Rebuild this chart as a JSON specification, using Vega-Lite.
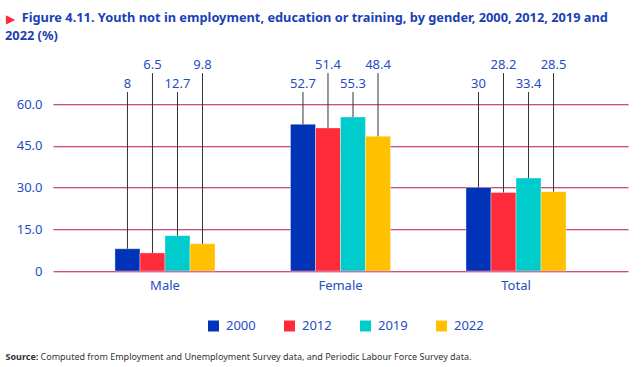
{
  "$schema": "https://vega.github.io/schema/vega-lite/v6.json",
  "width": 575,
  "height": 208.75,
  "autosize": {"type": "none"},
  "padding": {"left": 53, "top": 62.25, "right": 14, "bottom": 96},
  "config": {"font": "Noto Sans", "view": {"stroke": null}},
  "title": {
    "text": ["\u200b\u00a0\u00a0\u00a0\u00a0\u00a0Figure 4.11. Youth not in employment, education or training, by gender, 2000, 2012, 2019 and", "2022 (%)"],
    "anchor": "start",
    "frame": "bounds",
    "fontSize": 12.8,
    "fontWeight": "bold",
    "color": "#1b3fb4",
    "lineHeight": 18,
    "offset": -31
  },
  "data": {
    "values": [
      {"gender": "Male", "year": "2000", "value": 8},
      {"gender": "Male", "year": "2012", "value": 6.5},
      {"gender": "Male", "year": "2019", "value": 12.7},
      {"gender": "Male", "year": "2022", "value": 9.8},
      {"gender": "Female", "year": "2000", "value": 52.7},
      {"gender": "Female", "year": "2012", "value": 51.4},
      {"gender": "Female", "year": "2019", "value": 55.3},
      {"gender": "Female", "year": "2022", "value": 48.4},
      {"gender": "Total", "year": "2000", "value": 30},
      {"gender": "Total", "year": "2012", "value": 28.2},
      {"gender": "Total", "year": "2019", "value": 33.4},
      {"gender": "Total", "year": "2022", "value": 28.5}
    ]
  },
  "resolve": {"axis": {"y": "independent"}},
  "encoding": {
    "x": {
      "field": "gender",
      "type": "nominal",
      "sort": ["Male", "Female", "Total"],
      "scale": {"paddingInner": 0.43, "paddingOuter": 0.353},
      "axis": {
        "labelAngle": 0,
        "ticks": false,
        "domain": false,
        "labelFontSize": 13,
        "labelColor": "#1f4dc4",
        "labelPadding": 8,
        "title": "Computed from Employment and Unemployment Survey data, and Periodic Labour Force Survey data.",
        "titleX": -13,
        "titleY": 88,
        "titleAlign": "left",
        "titleAnchor": "start",
        "titleBaseline": "alphabetic",
        "titleFontSize": 9,
        "titleFontWeight": "normal",
        "titleColor": "#333333"
      }
    },
    "xOffset": {"field": "year", "type": "nominal", "scale": {"domain": ["2000", "2012", "2019", "2022"]}}
  },
  "layer": [
    {
      "mark": {"type": "bar", "stroke": "white", "strokeWidth": 1, "strokeOpacity": 0.35},
      "encoding": {
        "y": {
          "field": "value",
          "type": "quantitative",
          "scale": {"domain": [0, 75], "nice": false, "zero": true},
          "axis": {
            "values": [0, 15, 30, 45, 60],
            "labelExpr": "datum.value == 0 ? '0' : format(datum.value, '.1f')",
            "grid": true,
            "gridColor": "#b5155a",
            "gridWidth": 1,
            "gridOpacity": 1,
            "ticks": false,
            "tickSize": 0,
            "domain": false,
            "labelPadding": 11,
            "labelFontSize": 13,
            "labelColor": "#1f4dc4",
            "title": "\u25b6",
            "titleAngle": 0,
            "titleX": -48,
            "titleY": -44,
            "titleAlign": "left",
            "titleBaseline": "middle",
            "titleFontSize": 12,
            "titleFontWeight": "normal",
            "titleColor": "#ff2a3a"
          }
        },
        "color": {
          "field": "year",
          "type": "nominal",
          "scale": {"domain": ["2000", "2012", "2019", "2022"], "range": ["#0033b8", "#ff2a3a", "#00cccc", "#ffc000"]},
          "legend": {
            "orient": "none",
            "legendX": 154,
            "legendY": 257,
            "direction": "horizontal",
            "title": null,
            "symbolType": "square",
            "symbolSize": 121,
            "symbolStrokeWidth": 0,
            "symbolOpacity": 1,
            "labelFontSize": 13,
            "labelColor": "#1f4dc4",
            "labelOffset": 6,
            "columnPadding": 27
          }
        }
      }
    },
    {
      "transform": [{"filter": "datum.year == '2000' || datum.year == '2019'"}],
      "mark": {"type": "rule", "color": "#333333", "strokeWidth": 1},
      "encoding": {
        "y": {
          "field": "value",
          "type": "quantitative",
          "axis": {
            "orient": "right",
            "labels": false,
            "ticks": false,
            "domain": false,
            "grid": false,
            "title": "Source:",
            "titleAngle": 0,
            "titleX": -623,
            "titleY": 296.75,
            "titleAlign": "left",
            "titleBaseline": "alphabetic",
            "titleFontSize": 9,
            "titleFontWeight": "bold",
            "titleColor": "#333333"
          }
        },
        "y2": {"datum": 64.3}
      }
    },
    {
      "transform": [{"filter": "datum.year == '2012' || datum.year == '2022'"}],
      "mark": {"type": "rule", "color": "#333333", "strokeWidth": 1},
      "encoding": {
        "y": {"field": "value", "type": "quantitative", "axis": null},
        "y2": {"datum": 71.1}
      }
    },
    {
      "transform": [{"filter": "datum.year == '2000' || datum.year == '2019'"}],
      "mark": {"type": "text", "baseline": "bottom", "dy": -1, "fontSize": 13, "color": "#1f4dc4"},
      "encoding": {
        "y": {"datum": 64.3, "type": "quantitative", "axis": null},
        "text": {"field": "value", "type": "quantitative"}
      }
    },
    {
      "transform": [{"filter": "datum.year == '2012' || datum.year == '2022'"}],
      "mark": {"type": "text", "baseline": "bottom", "dy": -1, "fontSize": 13, "color": "#1f4dc4"},
      "encoding": {
        "y": {"datum": 71.1, "type": "quantitative", "axis": null},
        "text": {"field": "value", "type": "quantitative"}
      }
    }
  ]
}
